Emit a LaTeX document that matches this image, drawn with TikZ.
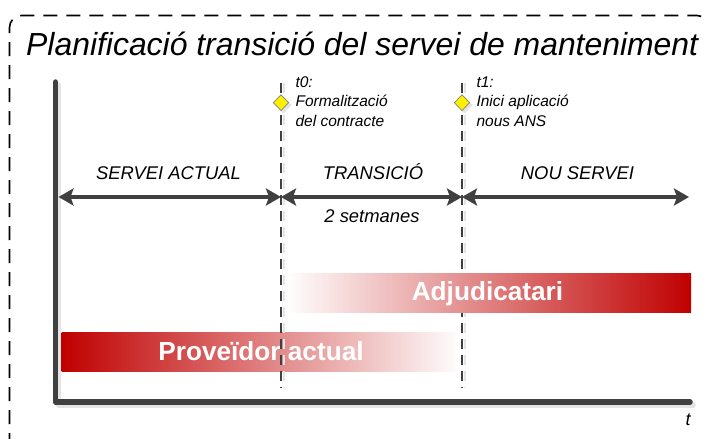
\documentclass[tikz,border=0pt]{standalone}
\usepackage{fontspec}
\setmainfont{Liberation Sans}
\usetikzlibrary{arrows.meta,shapes.geometric}
\definecolor{axiscol}{RGB}{64,64,64}
\definecolor{shadowcol}{RGB}{228,228,228}
\definecolor{barred}{RGB}{192,0,0}
\definecolor{diamyellow}{RGB}{255,240,0}
\tikzset{
  border/.style={black, line width=1.6pt, dash pattern=on 14pt off 9pt},
  axisline/.style={axiscol, line width=5.5pt, line cap=round, line join=round},
  axisshadow/.style={shadowcol, line width=5.5pt, line cap=round, line join=round},
  tline/.style={axiscol, line width=2pt, dash pattern=on 10pt off 6pt},
  tshadow/.style={shadowcol, line width=2pt, dash pattern=on 10pt off 6pt},
  milestone/.style={diamond, draw=gray, fill=diamyellow, line width=0.7pt, inner sep=0pt, minimum width=15.5pt, minimum height=16pt},
  dimarrow/.style={axiscol, line width=3.6pt, {Stealth[length=15pt,width=17pt,inset=3pt]}-{Stealth[length=15pt,width=17pt,inset=3pt]}},
  phase/.style={anchor=base, font=\fontsize{18.4}{22}\selectfont\itshape},
  mlabel/.style={anchor=base west, align=left, font=\fontsize{15.5}{19.5}\selectfont\itshape},
  barlabel/.style={anchor=base, text=white, font=\fontsize{26.2}{30}\selectfont\bfseries},
}
\begin{document}
\begin{tikzpicture}[x=1pt,y=-1pt]
\useasboundingbox (0,0) rectangle (707,439);
% outer dashed frame
\draw[border, rounded corners=12pt] (9.5,470) -- (9.5,15.5) -- (709,15.5) -- (709,470);
% title
\node[anchor=base west, font=\fontsize{31.9}{36}\selectfont\itshape, inner sep=0pt] (title) at (26,55) {Planificació transició del servei de manteniment};
% axes
\coordinate (ytop) at (55.5,82);
\coordinate (origin) at (55.5,402);
\coordinate (xend) at (690,402);
\draw[axisshadow] ([shift={(3,3)}]ytop) -- ([shift={(3,3)}]origin) -- ([shift={(3,3)}]xend);
\draw[axisline] (ytop) -- (origin) -- (xend);
\node[anchor=base, font=\fontsize{18}{22}\selectfont\itshape] (tlab) at (688,425) {t};
% Proveidor actual bar
\shade[left color=barred, right color=white] (61.7,332.7) rectangle (462,371.7);
\node[barlabel] (prov) at (261,360) {Proveïdor actual};
% milestone lines
\coordinate (t0a) at (281,83);
\coordinate (t0b) at (281,388);
\coordinate (t1a) at (462,83);
\coordinate (t1b) at (462,388);
\draw[tshadow] ([xshift=3]t0a) -- ([xshift=3]t0b);
\draw[tshadow] ([xshift=3]t1a) -- ([xshift=3]t1b);
\draw[tline] (t0a) -- (t0b);
\draw[tline] (t1a) -- (t1b);
% milestones
\node[milestone, draw=shadowcol, fill=shadowcol] at (283.5,105) {};
\node[milestone, draw=shadowcol, fill=shadowcol] at (464.5,105) {};
\node[milestone] (m0) at (281,102.7) {};
\node[milestone] (m1) at (462,102.7) {};
\node[mlabel] (l0) at (292,126) {t0:\\Formalització\\del contracte};
\node[mlabel] (l1) at (473,126) {t1:\\Inici aplicació\\nous ANS};
% Adjudicatari bar
\shade[left color=white, right color=barred] (286,273) rectangle (691,312);
\node[barlabel] (adj) at (487.5,300.5) {Adjudicatari};
% phase arrows
\coordinate (p0) at (58.5,197);
\coordinate (p1) at (281,197);
\coordinate (p2) at (462,197);
\coordinate (p3) at (689,197);
\draw[dimarrow] (p0) -- (p1);
\draw[dimarrow] (p1) -- (p2);
\draw[dimarrow] (p2) -- (p3);
\node[phase] (s1) at (168.5,179) {SERVEI ACTUAL};
\node[phase] (s2) at (373,179) {TRANSICIÓ};
\node[phase] (s3) at (577.5,179) {NOU SERVEI};
\node[phase] (dur) at (372,222) {2 setmanes};
\end{tikzpicture}
\end{document}
